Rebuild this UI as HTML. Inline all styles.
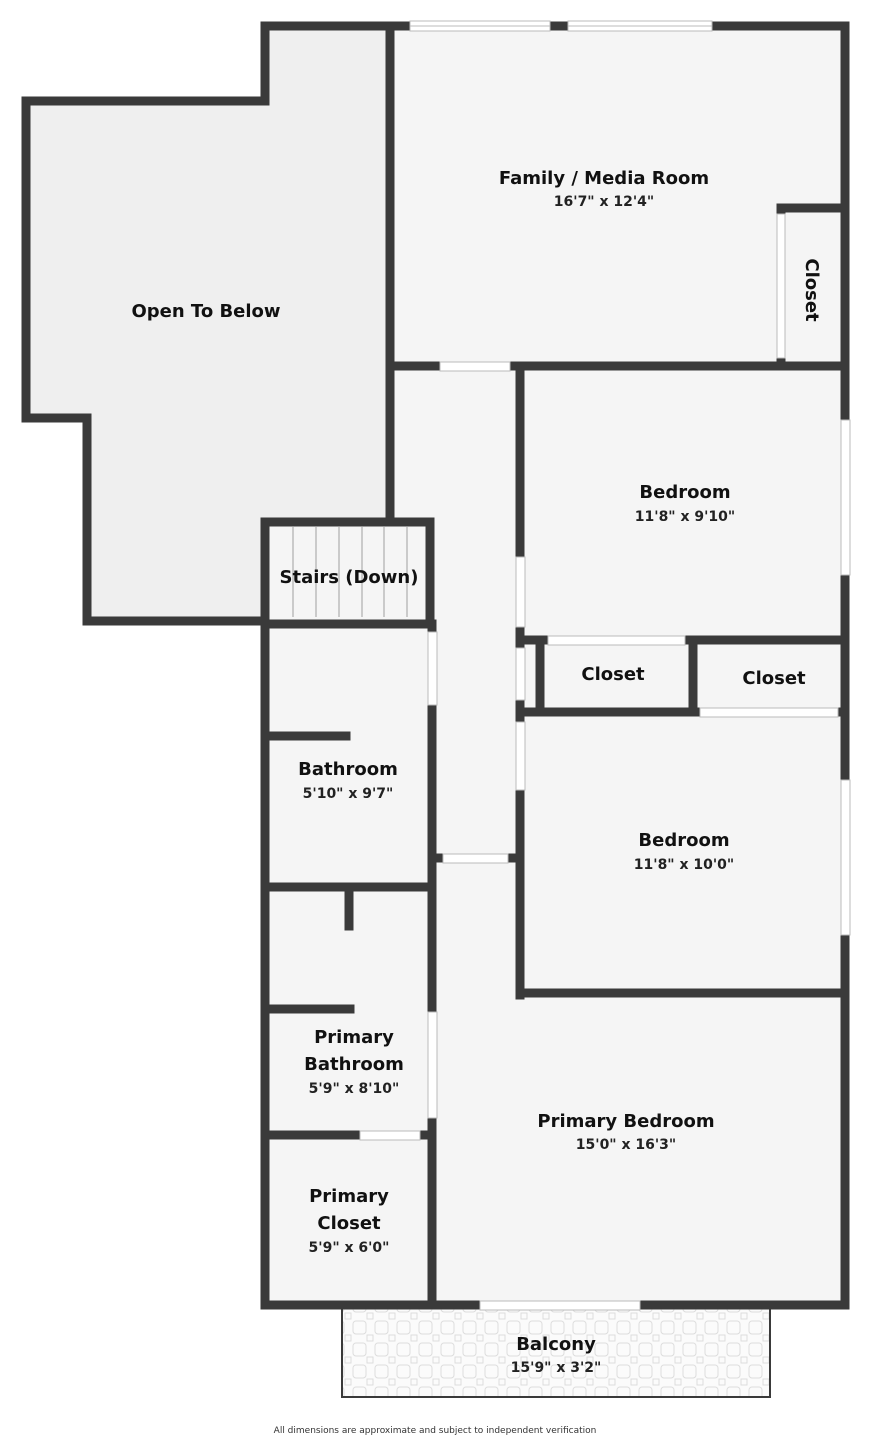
<!DOCTYPE html>
<html><head><meta charset="utf-8"><style>
body{margin:0;background:#fff;}
svg text{font-family:"DejaVu Sans","Liberation Sans",sans-serif;font-weight:bold;fill:#111;text-anchor:middle;}
.t{font-size:18px}.d{font-size:14px;fill:#222}
</style></head><body>
<svg width="871" height="1440" viewBox="0 0 871 1440" xmlns="http://www.w3.org/2000/svg">
<defs>
<pattern id="tile" width="22" height="22" patternUnits="userSpaceOnUse">
<rect width="22" height="22" fill="#fbfbfb"/>
<rect x="1" y="1" width="13" height="13" rx="3" fill="none" stroke="#ddd" stroke-width="1"/>
<rect x="15" y="15" width="6" height="6" fill="none" stroke="#ddd" stroke-width="1"/>
</pattern>
</defs>
<polygon points="265,26 390,26 390,522 265,522 265,621 87,621 87,418 26,418 26,101 265,101" fill="#efefef"/>
<rect x="390" y="26" width="455" height="1279" fill="#f5f5f5"/>
<rect x="265" y="522" width="167" height="783" fill="#f5f5f5"/>
<rect x="342" y="1305" width="428" height="92" fill="url(#tile)" stroke="#3a3a3a" stroke-width="2"/>
<g stroke="#bbb" stroke-width="1.5">
<line x1="293" y1="527" x2="293" y2="617"/><line x1="316" y1="527" x2="316" y2="617"/><line x1="339" y1="527" x2="339" y2="617"/><line x1="362" y1="527" x2="362" y2="617"/><line x1="384" y1="527" x2="384" y2="617"/><line x1="407" y1="527" x2="407" y2="617"/>
</g>
<g stroke="#3a3a3a" stroke-width="9" fill="none" stroke-linecap="square" stroke-linejoin="miter">
<polyline points="390,26 265,26 265,101 26,101 26,418 87,418 87,621 265,621"/>
<line x1="390" y1="26" x2="390" y2="522"/>
<line x1="390" y1="26" x2="845" y2="26"/>
<line x1="845" y1="26" x2="845" y2="1305"/>
<line x1="390" y1="366" x2="845" y2="366"/>
<line x1="781" y1="208" x2="845" y2="208"/>
<line x1="781" y1="208" x2="781" y2="214"/>
<line x1="781" y1="358" x2="781" y2="366"/>
<polyline points="265,1305 265,522 430,522 430,621"/>
<line x1="265" y1="624" x2="432" y2="624"/>
<line x1="520" y1="366" x2="520" y2="995"/>
<line x1="520" y1="640" x2="845" y2="640"/>
<line x1="540" y1="640" x2="540" y2="712"/>
<line x1="693" y1="640" x2="693" y2="712"/>
<line x1="520" y1="712" x2="845" y2="712"/>
<line x1="520" y1="993" x2="845" y2="993"/>
<line x1="432" y1="858" x2="520" y2="858"/>
<line x1="432" y1="624" x2="432" y2="1305"/>
<line x1="265" y1="736" x2="346" y2="736"/>
<line x1="265" y1="887" x2="432" y2="887"/>
<line x1="349" y1="887" x2="349" y2="926"/>
<line x1="265" y1="1009" x2="350" y2="1009"/>
<line x1="265" y1="1135" x2="432" y2="1135"/>
<line x1="265" y1="1305" x2="845" y2="1305"/>
</g>
<g fill="#fff" stroke="#bbb" stroke-width="1">
<rect x="410" y="21" width="140" height="10"/><rect x="568" y="21" width="144" height="10"/>
<line x1="410" y1="26" x2="550" y2="26"/><line x1="568" y1="26" x2="712" y2="26"/>
<rect x="440" y="362" width="70" height="9"/>
<rect x="777" y="214" width="8" height="144"/>
<rect x="516" y="557" width="9" height="70"/>
<rect x="516" y="648" width="9" height="52"/>
<rect x="516" y="722" width="9" height="68"/>
<rect x="548" y="636" width="137" height="9"/>
<rect x="700" y="708" width="138" height="9"/>
<rect x="841" y="420" width="9" height="155"/>
<rect x="841" y="780" width="9" height="155"/>
<rect x="443" y="854" width="65" height="9"/>
<rect x="428" y="632" width="9" height="73"/>
<rect x="428" y="1012" width="9" height="106"/>
<rect x="360" y="1131" width="60" height="9"/>
<rect x="480" y="1301" width="160" height="9"/>
</g>
<text class="t" x="206" y="317">Open To Below</text>
<text class="t" x="604" y="184">Family / Media Room</text>
<text class="d" x="604" y="206">16'7" x 12'4"</text>
<text class="t" transform="translate(806,290) rotate(90)">Closet</text>
<text class="t" x="685" y="498">Bedroom</text>
<text class="d" x="685" y="521">11'8" x 9'10"</text>
<text class="t" x="349" y="583">Stairs (Down)</text>
<text class="t" x="613" y="680">Closet</text>
<text class="t" x="774" y="684">Closet</text>
<text class="t" x="348" y="775">Bathroom</text>
<text class="d" x="348" y="798">5'10" x 9'7"</text>
<text class="t" x="684" y="846">Bedroom</text>
<text class="d" x="684" y="869">11'8" x 10'0"</text>
<text class="t" x="354" y="1043">Primary</text>
<text class="t" x="354" y="1070">Bathroom</text>
<text class="d" x="354" y="1093">5'9" x 8'10"</text>
<text class="t" x="626" y="1127">Primary Bedroom</text>
<text class="d" x="626" y="1149">15'0" x 16'3"</text>
<text class="t" x="349" y="1202">Primary</text>
<text class="t" x="349" y="1229">Closet</text>
<text class="d" x="349" y="1252">5'9" x 6'0"</text>
<text class="t" x="556" y="1350">Balcony</text>
<text class="d" x="556" y="1372">15'9" x 3'2"</text>
<text x="435" y="1433" style="font-size:9px;font-weight:normal;fill:#333">All dimensions are approximate and subject to independent verification</text>
</svg>
</body></html>
